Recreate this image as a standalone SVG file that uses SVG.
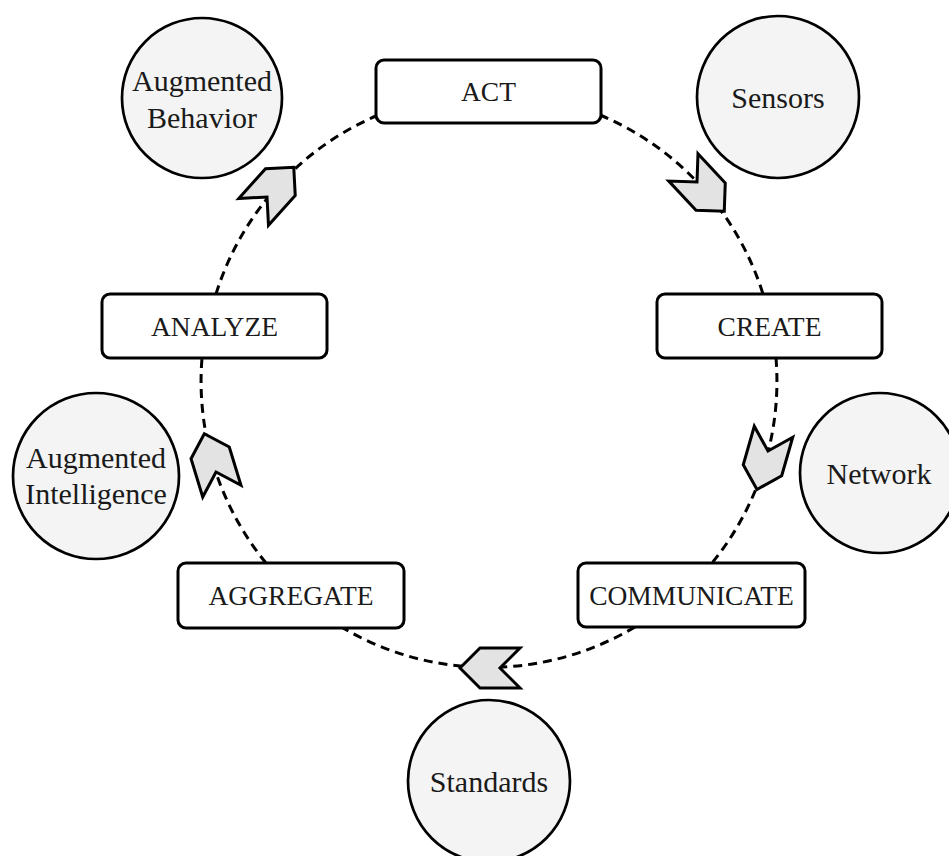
<svg xmlns="http://www.w3.org/2000/svg" width="949" height="856" viewBox="0 0 949 856">
  <style>
    .box { fill: #ffffff; stroke: #000000; stroke-width: 3; }
    .ring { fill: #f4f4f4; stroke: #000000; stroke-width: 2.7; }
    .chev { fill: #e3e3e3; stroke: #000000; stroke-width: 3; stroke-linejoin: miter; }
    .link { fill: none; stroke: #000000; stroke-width: 3; stroke-dasharray: 9 6; }
    .lbl { font-family: "Liberation Serif", "Times New Roman", serif; font-size: 27.5px; fill: #1a1a1a; text-anchor: middle; }
    .clbl { font-family: "Liberation Serif", "Times New Roman", serif; font-size: 30px; fill: #1a1a1a; text-anchor: middle; }
  </style>
  <defs>
    <!-- chevron pointing along +x, notch at the origin -->
    <polygon id="chevron" class="chev" points="-20,-20 20,-20 40,0 20,20 -20,20 0,0"/>
  </defs>

  <rect width="949" height="856" fill="#ffffff"/>

  <!-- dashed cycle: arcs on one circle (centre 489,380, r 287) -->
  <g id="connectors">
    <path class="link" d="M600,115 A287,287 0 0 1 763,294"/>
    <path class="link" d="M776,358 A287,287 0 0 1 712,563"/>
    <path class="link" d="M635,627 A287,287 0 0 1 343,628"/>
    <path class="link" d="M266,563 A287,287 0 0 1 202,358"/>
    <path class="link" d="M216,294 A287,287 0 0 1 376,116"/>
    <use href="#chevron" transform="translate(697,182) rotate(47)"/>
    <use href="#chevron" transform="translate(768,451) rotate(106)"/>
    <use href="#chevron" transform="translate(500,668) rotate(180)"/>
    <use href="#chevron" transform="translate(216,472) rotate(-107)"/>
    <use href="#chevron" transform="translate(267,197) rotate(-48)"/>
  </g>

  <!-- process steps -->
  <g id="act">
    <rect class="box" x="376" y="60" width="225" height="63" rx="8"/>
    <text class="lbl" x="488.5" y="101">ACT</text>
  </g>
  <g id="create">
    <rect class="box" x="657" y="294" width="225" height="64" rx="8"/>
    <text class="lbl" x="769.5" y="335.5">CREATE</text>
  </g>
  <g id="communicate">
    <rect class="box" x="578" y="563" width="227" height="64" rx="8"/>
    <text class="lbl" x="691.5" y="604.5">COMMUNICATE</text>
  </g>
  <g id="aggregate">
    <rect class="box" x="178" y="563" width="226" height="65" rx="8"/>
    <text class="lbl" x="291" y="605">AGGREGATE</text>
  </g>
  <g id="analyze">
    <rect class="box" x="102" y="294" width="225" height="64" rx="8"/>
    <text class="lbl" x="214.5" y="335.5">ANALYZE</text>
  </g>

  <!-- enablers -->
  <g id="sensors">
    <circle class="ring" cx="778" cy="97" r="81"/>
    <text class="clbl" x="778" y="108">Sensors</text>
  </g>
  <g id="network">
    <circle class="ring" cx="880" cy="473" r="80"/>
    <text class="clbl" x="879" y="484">Network</text>
  </g>
  <g id="standards">
    <circle class="ring" cx="489" cy="781" r="81"/>
    <text class="clbl" x="489" y="792">Standards</text>
  </g>
  <g id="augmented-intelligence">
    <circle class="ring" cx="96" cy="476" r="83"/>
    <text class="clbl" x="96" y="468">Augmented</text>
    <text class="clbl" x="96" y="504">Intelligence</text>
  </g>
  <g id="augmented-behavior">
    <circle class="ring" cx="202" cy="98" r="80"/>
    <text class="clbl" x="202" y="91">Augmented</text>
    <text class="clbl" x="202" y="128">Behavior</text>
  </g>
</svg>
